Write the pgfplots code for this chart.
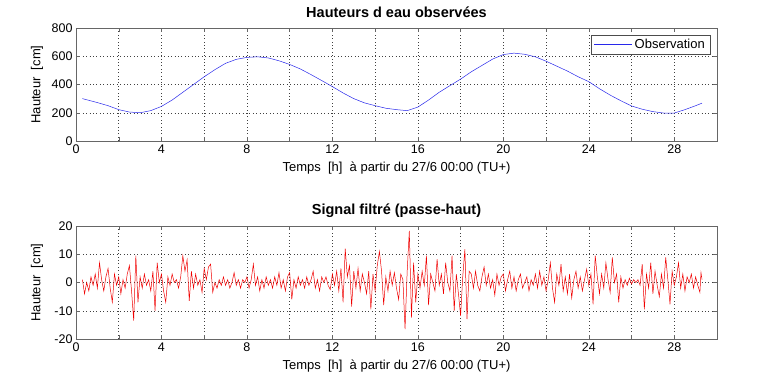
\documentclass[border=0pt]{standalone}
\usepackage{pgfplots}
\usepackage{pgfplotstable}
\pgfplotsset{compat=1.18}
\usepackage{fontspec}
\setmainfont{Liberation Sans}

\pgfplotstableread{
t h
0.3 300
0.5 292
1.0 272
1.5 250
2.0 222
2.5 205
3.0 200
3.5 215
4.0 245
4.5 290
5.0 345
5.5 400
6.0 455
6.5 505
7.0 550
7.5 578
8.0 592
8.5 596
9.0 588
9.5 568
10.0 542
10.5 510
11.0 470
11.5 428
12.0 385
12.5 340
13.0 300
13.5 270
14.0 250
14.5 232
15.0 222
15.5 215
16.0 240
16.5 290
17.0 345
17.5 392
18.0 438
18.5 490
19.0 535
19.5 580
20.0 612
20.5 622
21.0 614
21.5 596
22.0 565
22.5 530
23.0 495
23.5 455
24.0 420
24.5 370
25.0 325
25.5 285
26.0 248
26.5 225
27.0 208
27.5 198
28.0 198
28.5 222
29.0 250
29.3 268
}\tableobs

\pgfplotstableread{
t v
0.3 1
0.4 -4
0.5 0
0.6 -3
0.7 2
0.8 -1
0.9 3
1.0 -2
1.1 7
1.2 1
1.3 -3
1.4 2
1.5 5
1.6 -2
1.7 -7
1.8 3
1.9 -1
2.0 2
2.1 -4
2.2 1
2.3 -2
2.4 3
2.5 6
2.6 -3
2.7 -13.5
2.8 9.5
2.9 -7
3.0 2
3.1 -2
3.2 3
3.3 -1
3.4 1
3.5 -3
3.6 4
3.7 -10
3.8 7
3.9 0
4.0 3
4.1 -3
4.2 -7
4.3 2
4.4 -1
4.5 3
4.6 0
4.7 1
4.8 -2
4.9 2
5.0 9.5
5.1 4
5.2 8
5.3 -6.5
5.4 4
5.5 -2
5.6 3
5.7 -1
5.8 1
5.9 -3.5
6.0 5
6.1 1
6.2 5.5
6.3 6.5
6.4 -3.5
6.5 0
6.6 -2
6.7 1
6.8 -1
6.9 2
7.0 -1
7.1 1
7.2 -2
7.3 0
7.4 3.5
7.5 -1
7.6 1
7.7 -2
7.8 1
7.9 0
8.0 2
8.1 -2
8.2 1
8.3 6.5
8.4 -1
8.5 2
8.6 -3
8.7 1
8.8 -2
8.9 2
9.0 -1
9.1 1
9.2 -2
9.3 2
9.4 -1
9.5 3.5
9.6 -2
9.7 1
9.8 -3
9.9 2
10.0 3.5
10.1 -6
10.2 1
10.3 -2
10.4 2
10.5 -1
10.6 1
10.7 -2
10.8 2
10.9 -1
11.0 1
11.1 4
11.2 -2
11.3 1
11.4 -3
11.5 2
11.6 0
11.7 2
11.8 -1
11.9 -2.5
12.0 3
12.1 -1
12.2 4
12.3 -3
12.4 5
12.5 -7
12.6 12
12.7 2
12.8 6
12.9 -8.5
13.0 4
13.1 -2
13.2 5
13.3 -3
13.4 3
13.5 0
13.6 -4
13.7 4
13.8 -9.5
13.9 3
14.0 -3
14.1 6
14.2 11
14.3 4
14.4 -8
14.5 2
14.6 -3
14.7 4
14.8 -1
14.9 3.5
15.0 -2
15.1 -6
15.2 3
15.3 1
15.4 -16.5
15.5 4
15.6 18.3
15.7 -12.4
15.8 7
15.9 -7
16.0 3
16.1 -2
16.2 4
16.3 -1
16.4 9.5
16.5 -8
16.6 3
16.7 0
16.8 -3
16.9 8.3
17.0 -1
17.1 3
17.2 -4
17.3 7
17.4 0
17.5 -3
17.6 9.5
17.7 -10
17.8 3
17.9 -4
18.0 -11.8
18.1 2
18.2 11.8
18.3 -13
18.4 4
18.5 3
18.6 -2
18.7 4
18.8 -1
18.9 -3
19.0 2
19.1 5.5
19.2 -1
19.3 3
19.4 -2
19.5 1
19.6 -4.5
19.7 3
19.8 -1
19.9 2
20.0 3
20.1 -3
20.2 1
20.3 4
20.4 -2
20.5 2
20.6 -3
20.7 1
20.8 3
20.9 -2
21.0 0
21.1 2
21.2 -3
21.3 1
21.4 -1
21.5 3
21.6 -2
21.7 4
21.8 -1
21.9 2
22.0 -3
22.1 1
22.2 7
22.3 -2
22.4 -7
22.5 3
22.6 -1
22.7 6.5
22.8 -3
22.9 2
23.0 -4
23.1 3
23.2 -5.5
23.3 1
23.4 4
23.5 -2
23.6 2
23.7 -3
23.8 1
23.9 4.7
24.0 -1
24.1 3
24.2 -7.7
24.3 9.5
24.4 2
24.5 -4
24.6 3
24.7 -2
24.8 7
24.9 1
25.0 -3.5
25.1 8.9
25.2 0
25.3 3
25.4 -7
25.5 2
25.6 -2
25.7 1
25.8 -1
25.9 1.5
26.0 -0.5
26.1 1
26.2 0
26.3 1
26.4 -1
26.5 6.5
26.6 -9.5
26.7 3
26.8 -2
26.9 7
27.0 -4
27.1 4
27.2 -1
27.3 -5
27.4 3
27.5 -2
27.6 8.9
27.7 1
27.8 -7.7
27.9 4
28.0 -1
28.1 2
28.2 7
28.3 -2
28.4 3
28.5 -3
28.6 2
28.7 0
28.8 3
28.9 -2
29.0 2
29.1 -1
29.2 -3.5
29.25 3.5
29.3 1
}\tablefilt

\definecolor{mblue}{RGB}{40,40,235}
\definecolor{mred}{RGB}{240,0,0}

\pgfplotsset{
  myaxis/.style={
    scale only axis, width=641bp, height=113bp,
    xmin=0, xmax=30,
    xtick={0,4,...,28}, minor xtick={2,6,...,30},
    grid=both,
    major grid style={black!75, dash pattern=on 0.8bp off 2.6bp, line width=0.5pt},
    minor grid style={black!75, dash pattern=on 0.8bp off 2.6bp, line width=0.5pt},
    axis line style={black!60},
    every tick/.style={black!60},
    major tick length=4bp, minor tick length=4bp,
    tick align=inside,
    /pgf/number format/assume math mode=true,
    ticklabel style={font=\fontsize{12.5bp}{14bp}\selectfont},
    label style={font=\fontsize{13bp}{15bp}\selectfont},
    title style={font=\fontsize{14.5bp}{16bp}\selectfont\bfseries, at={(axis description cs:0.5,1)}, anchor=center, yshift=9.5bp},
    xlabel={Temps\ \ [h]\ \ à partir du 27/6 00:00 (TU+)},
    ylabel={Hauteur\ \ [cm]},
    xlabel style={at={(axis description cs:0.5,-0.239)}, anchor=center},
    ylabel style={at={(axis description cs:-0.0608,0.5)}, anchor=center},
  }
}

\begin{document}
\begin{tikzpicture}
\path[use as bounding box] (0bp,0bp) rectangle (760bp,384bp);

\begin{axis}[myaxis,
  at={(76bp,243bp)}, anchor=south west,
  ymin=0, ymax=800, ytick={0,200,...,800},
  title={Hauteurs d eau observées},
  legend style={at={(1,1)}, anchor=north east, xshift=-7bp, yshift=-7bp,
    draw=black!70, fill=white, font=\fontsize{13bp}{14bp}\selectfont,
    inner xsep=3bp, inner ysep=1.8bp, row sep=0bp},
  legend image code/.code={\draw[#1] (0bp,0bp) -- (38bp,0bp);},
]
\addplot[mblue, line width=0.5pt] table[x=t, y=h] {\tableobs};
\addlegendentry{Observation}
\end{axis}

\begin{axis}[myaxis,
  at={(76bp,45bp)}, anchor=south west,
  ymin=-20, ymax=20, ytick={-20,-10,0,10,20},
  title={Signal filtré (passe-haut)},
]
\addplot[mred, line width=0.5pt] table[x=t, y=v] {\tablefilt};
\end{axis}
\end{tikzpicture}
\end{document}
